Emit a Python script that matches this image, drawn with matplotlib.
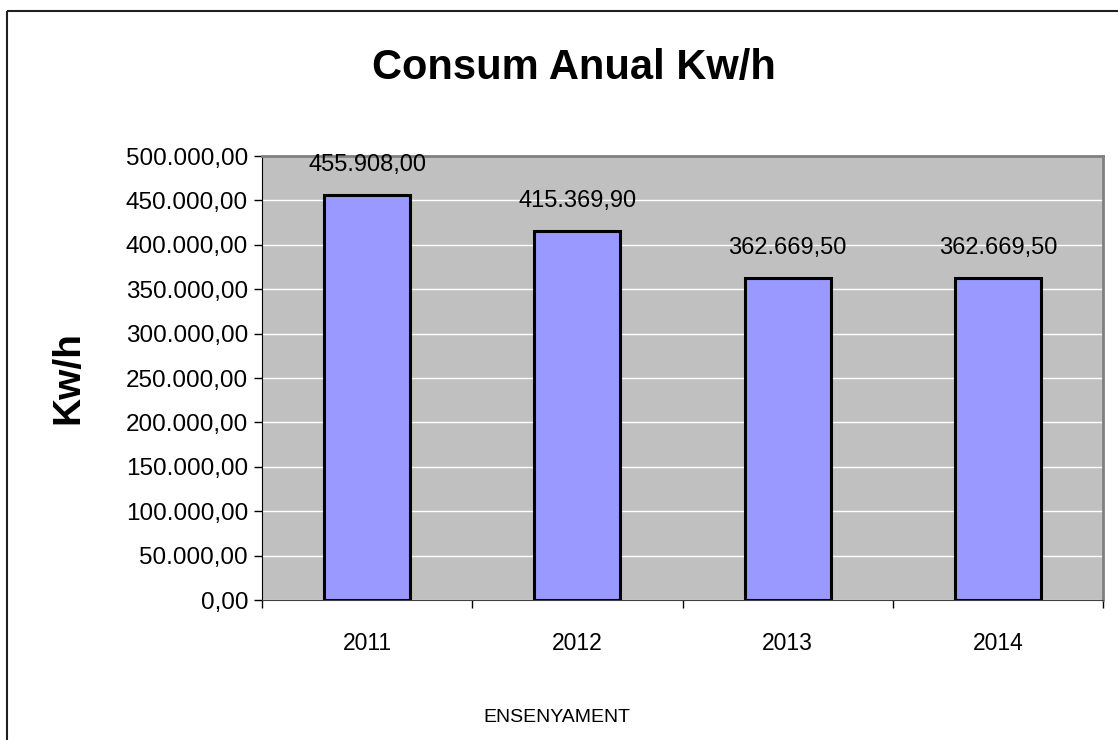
import matplotlib
matplotlib.use('Agg')
import matplotlib.pyplot as plt
from matplotlib.patches import Rectangle
from matplotlib.ticker import FuncFormatter, MultipleLocator

years = ['2011', '2012', '2013', '2014']
consum = [455908.00, 415369.90, 362669.50, 362669.50]


def eur(v, pos=None):
    s = f"{v:,.2f}"
    return s.replace(',', 'X').replace('.', ',').replace('X', '.')


plt.rcParams['font.family'] = ['Liberation Sans', 'DejaVu Sans']

fig = plt.figure(figsize=(11.18, 7.4), dpi=100)
W, H = 1118, 740

# outer chart border (right and bottom fall outside the image)
fig.patches.append(Rectangle((7 / W, 1 - 11 / H), 1.2, -1.2, transform=fig.transFigure,
                             fill=False, edgecolor='#202020', linewidth=1.5))

ax = fig.add_axes([262 / W, 1 - 600 / H, 841 / W, 444 / H])
ax.set_facecolor('#C0C0C0')

x = range(len(years))
ax.bar(x, consum, width=0.41, color='#9999FF', edgecolor='black', linewidth=2.2, zorder=3)

ax.set_xlim(-0.5, len(years) - 0.5)
ax.set_ylim(0, 500000)
ax.yaxis.set_major_locator(MultipleLocator(50000))
ax.yaxis.set_major_formatter(FuncFormatter(eur))
ax.grid(axis='y', color='white', linewidth=1, zorder=1)

ax.set_xticks([i - 0.5 for i in range(len(years) + 1)], minor=False)
ax.set_xticklabels([])
ax.set_xticks(list(x), minor=True)
ax.set_xticklabels(years, minor=True, fontsize=16.5)
ax.tick_params(axis='x', which='minor', length=0, pad=23)
ax.tick_params(axis='x', which='major', length=6, width=1, direction='out')
ax.tick_params(axis='y', length=6, width=1, direction='out', labelsize=17.5, pad=4)

for s in ['top', 'right']:
    ax.spines[s].set_color('#808080')
    ax.spines[s].set_linewidth(2)
ax.spines['left'].set_color('black')
ax.spines['bottom'].set_color('#404040')

for i, v in enumerate(consum):
    ax.annotate(eur(v), (i, v), xytext=(0, 14), textcoords='offset points',
                ha='center', va='bottom', fontsize=17, zorder=4)

fig.text(574 / W, 1 - 68 / H, 'Consum Anual Kw/h', ha='center', va='center',
         fontsize=30, fontweight='bold')
fig.text(68 / W, 1 - 378 / H, 'Kw/h', ha='center', va='center', rotation=90,
         fontsize=28, fontweight='bold')
fig.text(557 / W, 1 - 717 / H, 'ENSENYAMENT', ha='center', va='center', fontsize=14)

fig.savefig('out.png', dpi=100)
